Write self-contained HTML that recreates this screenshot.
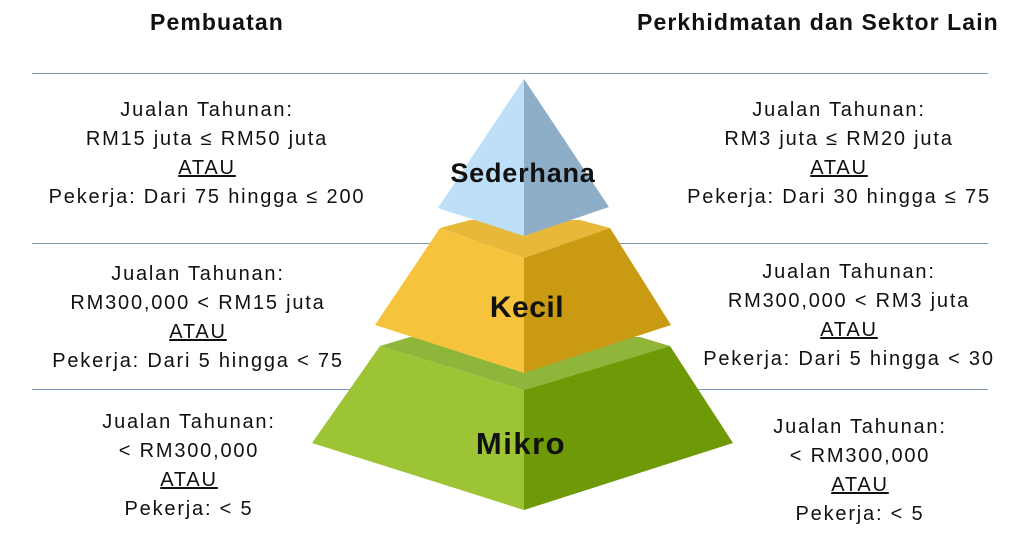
<!DOCTYPE html>
<html><head><meta charset="utf-8"><style>
body{margin:0;width:1024px;height:542px;background:#fff;position:relative;overflow:hidden;font-family:"Liberation Sans",sans-serif;}
.t{position:absolute;text-align:center;font-size:20px;line-height:29px;color:#111;width:360px;letter-spacing:1.8px;}
.h{position:absolute;font-weight:bold;font-size:23px;color:#111;letter-spacing:1.1px;white-space:nowrap;}
.l{position:absolute;left:32px;width:956px;height:1px;background:#7f96b8;}
u{text-decoration:underline;}
</style></head><body>
<div class="h" style="left:150px;top:9px">Pembuatan</div>
<div class="h" style="left:637px;top:9px">Perkhidmatan dan Sektor Lain</div>
<div class="l" style="top:73px"></div>
<div class="l" style="top:243px"></div>
<div class="l" style="top:389px"></div>
<svg width="1024" height="542" style="position:absolute;left:0;top:0">
<polygon points="410,337 640,337 670,346 524,390 380,346" fill="#8fb63a"/>
<polygon points="380,346 524,390 524,510 312,443" fill="#9cc434"/>
<polygon points="670,346 733,443 524,510 524,390" fill="#6f9a08"/>
<polygon points="470,220 580,220 610,228 524,258 440,228" fill="#e7b83a"/>
<polygon points="440,228 524,258 524,373 375,325" fill="#f6c43c"/>
<polygon points="610,228 671,325 524,373 524,258" fill="#c99a12"/>
<polygon points="524,79 438,208 524,236" fill="#bde0f8"/>
<polygon points="524,79 609,207 524,236" fill="#8eaec8"/>
<text x="523" y="182" text-anchor="middle" font-family="Liberation Sans" font-weight="bold" font-size="27" letter-spacing="0.8" fill="#111">Sederhana</text>
<text x="527" y="317" text-anchor="middle" font-family="Liberation Sans" font-weight="bold" font-size="30" letter-spacing="0.5" fill="#111">Kecil</text>
<text x="521" y="454" text-anchor="middle" font-family="Liberation Sans" font-weight="bold" font-size="31" letter-spacing="1.5" fill="#111">Mikro</text>
</svg>
<div class="t" style="left:27px;top:96px">Jualan Tahunan:<br>RM15 juta ≤ RM50 juta<br><u>ATAU</u><br>Pekerja: Dari 75 hingga ≤ 200</div>
<div class="t" style="left:659px;top:96px">Jualan Tahunan:<br>RM3 juta ≤ RM20 juta<br><u>ATAU</u><br>Pekerja: Dari 30 hingga ≤ 75</div>
<div class="t" style="left:18px;top:260px">Jualan Tahunan:<br>RM300,000 &lt; RM15 juta<br><u>ATAU</u><br>Pekerja: Dari 5 hingga &lt; 75</div>
<div class="t" style="left:669px;top:258px">Jualan Tahunan:<br>RM300,000 &lt; RM3 juta<br><u>ATAU</u><br>Pekerja: Dari 5 hingga &lt; 30</div>
<div class="t" style="left:9px;top:408px">Jualan Tahunan:<br>&lt; RM300,000<br><u>ATAU</u><br>Pekerja: &lt; 5</div>
<div class="t" style="left:680px;top:413px">Jualan Tahunan:<br>&lt; RM300,000<br><u>ATAU</u><br>Pekerja: &lt; 5</div>
</body></html>
